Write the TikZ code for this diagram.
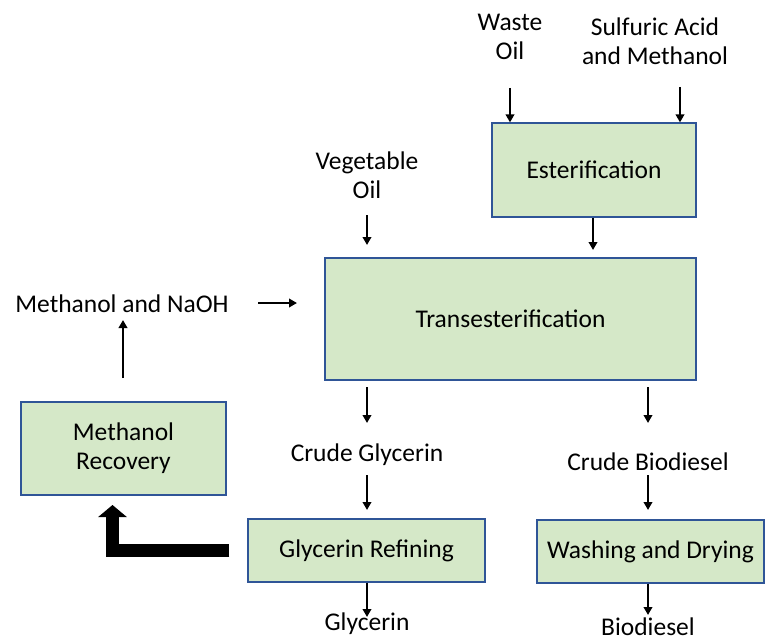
\documentclass[tikz,border=0pt]{standalone}
\usepackage{fontspec}
\setmainfont{Carlito}
\usetikzlibrary{arrows.meta}
\definecolor{boxgreen}{RGB}{213,232,200}
\definecolor{boxblue}{RGB}{47,85,151}
\tikzstyle{stage}=[
        draw=boxblue,
        fill=boxgreen,
        line width=1.2pt,
        align=center,
        inner sep=0pt
]
\tikzstyle{flowtext}=[
        align=center,
        inner sep=0pt
]
\tikzstyle{flow}=[
        -{Triangle[length=8pt,width=8.5pt]},
        line width=2pt
]
\tikzstyle{fatflow}=[
        -{Triangle[length=12pt,width=28pt]},
        line width=13pt
]

\begin{document}
\begin{tikzpicture}[x=1pt,y=-1pt,font=\fontsize{25.5}{29}\selectfont]
                    \useasboundingbox (0,0) rectangle (766,642);

                    \node[stage, minimum width=204pt, minimum height=94pt] (ester) at (594,170) {Esterification};
                    \node[stage, minimum width=371pt, minimum height=122pt] (trans) at (510.5,319) {Transesterification};
                    \node[stage, minimum width=205pt, minimum height=93pt] (recov) at (123.5,448.5) {Methanol\\Recovery};
                    \node[stage, minimum width=237pt, minimum height=63pt] (refine) at (366.5,550.5) {Glycerin Refining};
                    \node[stage, minimum width=227pt, minimum height=63pt] (wash) at (650.5,551.5) {Washing and Drying};

                    \node[flowtext] (waste) at (510,37) {Waste\\Oil};
                    \node[flowtext] (acid) at (655,41) {Sulfuric Acid\\and Methanol};
                    \node[flowtext] (veg) at (367,175) {Vegetable\\Oil};
                    \node[flowtext] (naoh) at (122,304) {Methanol and NaOH};
                    \node[flowtext] (cglyc) at (367,455) {Crude Glycerin};
                    \node[flowtext] (cbio) at (648,462) {Crude Biodiesel};
                    \node[flowtext] (glyc) at (367,624) {Glycerin};
                    \node[flowtext] (bio) at (648,627) {Biodiesel};

                    % free ends of the short arrows
                    \coordinate (wasteIn) at (510,88);
                    \coordinate (acidIn) at (680,87);
                    \coordinate (vegIn) at (367,215);
                    \coordinate (vegOut) at (367,245);
                    \coordinate (esterOut) at (593,250);
                    \coordinate (naohIn) at (258,303);
                    \coordinate (naohOut) at (297,303);
                    \coordinate (recovIn) at (123,378);
                    \coordinate (recovOut) at (123,320);
                    \coordinate (glycIn) at (367,387);
                    \coordinate (glycOut) at (367,423);
                    \coordinate (cglycIn) at (367,475);
                    \coordinate (cglycOut) at (367,510);
                    \coordinate (bioIn) at (648,387);
                    \coordinate (bioOut) at (648,423);
                    \coordinate (cbioIn) at (648,475);
                    \coordinate (cbioOut) at (648,510);
                    \coordinate (glycEnd) at (367,617);
                    \coordinate (bioEnd) at (648,615);
                    \coordinate (fatEnd) at (112.5,505);

                    \draw[flow] (wasteIn) -- (wasteIn |- ester.north);
                    \draw[flow] (acidIn) -- (acidIn |- ester.north);
                    \draw[flow] (ester.south -| esterOut) -- (esterOut);
                    \draw[flow] (vegIn) -- (vegOut);
                    \draw[flow] (naohIn) -- (naohOut);
                    \draw[flow] (recovIn) -- (recovOut);

                    \draw[flow] (glycIn) -- (glycOut);
                    \draw[flow] (cglycIn) -- (cglycOut);
                    \draw[flow] (glycEnd |- refine.south) -- (glycEnd);

                    \draw[flow] (bioIn) -- (bioOut);
                    \draw[flow] (cbioIn) -- (cbioOut);
                    \draw[flow] (bioEnd |- wash.south) -- (bioEnd);

                    \draw[fatflow, shorten <=18pt] (refine.west) -| (fatEnd);

                \end{tikzpicture}
\end{document}
